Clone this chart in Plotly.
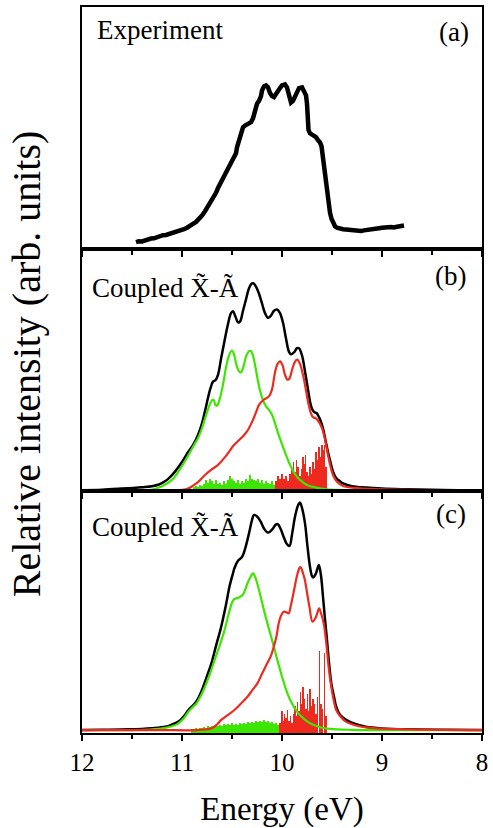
import plotly.graph_objects as go
from plotly.subplots import make_subplots

# ---------------- (a) experimental spectrum ----------------
exp_energy = [11.46, 11.43, 11.40, 11.37, 11.34, 11.31, 11.28, 11.25, 11.22, 11.19,
              11.16, 11.13, 11.10, 11.07, 11.04, 11.01, 10.98, 10.95, 10.92, 10.89,
              10.86, 10.83, 10.80, 10.77, 10.75, 10.72, 10.70, 10.68, 10.66, 10.64,
              10.62, 10.60, 10.58, 10.56, 10.54, 10.52, 10.50, 10.48, 10.46, 10.45,
              10.43, 10.41, 10.39, 10.37, 10.35, 10.33, 10.31, 10.29, 10.27, 10.25,
              10.23, 10.21, 10.20, 10.18, 10.16, 10.14, 10.12, 10.10, 10.08, 10.06,
              10.04, 10.02, 10.00, 9.97, 9.95, 9.93, 9.91, 9.89, 9.86, 9.83,
              9.80, 9.78, 9.76, 9.75, 9.745, 9.735, 9.72, 9.70, 9.68, 9.66,
              9.64, 9.62, 9.605, 9.595, 9.585, 9.575, 9.565, 9.555, 9.545, 9.535,
              9.52, 9.505, 9.49, 9.47, 9.45, 9.42, 9.39, 9.36, 9.33, 9.30,
              9.27, 9.24, 9.21, 9.18, 9.15, 9.12, 9.09, 9.06, 9.03, 9.00,
              8.97, 8.94, 8.91, 8.88, 8.85, 8.82, 8.80, 8.78]
exp_intensity = [0.028, 0.032, 0.031, 0.036, 0.038, 0.043, 0.044, 0.050, 0.052, 0.057,
                 0.058, 0.062, 0.064, 0.066, 0.070, 0.074, 0.082, 0.088, 0.094, 0.104,
                 0.112, 0.124, 0.138, 0.156, 0.170, 0.188, 0.200, 0.218, 0.232, 0.252,
                 0.268, 0.286, 0.306, 0.318, 0.330, 0.346, 0.362, 0.380, 0.396, 0.420,
                 0.452, 0.488, 0.503, 0.510, 0.516, 0.520, 0.524, 0.540, 0.570, 0.600,
                 0.612, 0.632, 0.655, 0.672, 0.676, 0.668, 0.645, 0.632, 0.628, 0.638,
                 0.650, 0.665, 0.676, 0.680, 0.668, 0.630, 0.605, 0.612, 0.640, 0.665,
                 0.668, 0.655, 0.635, 0.600, 0.540, 0.492, 0.478, 0.474, 0.470, 0.462,
                 0.450, 0.440, 0.425, 0.390, 0.350, 0.310, 0.270, 0.240, 0.205, 0.175,
                 0.150, 0.125, 0.105, 0.094, 0.088, 0.084, 0.082, 0.081, 0.079, 0.078,
                 0.076, 0.075, 0.074, 0.077, 0.078, 0.082, 0.082, 0.085, 0.086, 0.088,
                 0.087, 0.090, 0.091, 0.089, 0.092, 0.096, 0.094, 0.097]

# ---------------- (b) coupled X-A, first model ----------------
b_total_e = [12.00, 11.80, 11.60, 11.40, 11.30, 11.23, 11.17, 11.13, 11.07, 11.00,
             10.94, 10.89, 10.84, 10.80, 10.77, 10.74, 10.715, 10.69, 10.665, 10.64,
             10.61, 10.575, 10.54, 10.51, 10.49, 10.465, 10.44, 10.42, 10.39, 10.36,
             10.33, 10.30, 10.285, 10.26, 10.23, 10.20, 10.17, 10.14, 10.11, 10.08,
             10.05, 10.02, 9.99, 9.96, 9.93, 9.91, 9.88, 9.85, 9.83, 9.80,
             9.77, 9.74, 9.72, 9.70, 9.675, 9.655, 9.63, 9.61, 9.59, 9.565,
             9.54, 9.51, 9.49, 9.46, 9.42, 9.39, 9.30, 9.16, 9.00, 8.74,
             8.40, 8.00]
b_total_i = [0.003, 0.005, 0.010, 0.016, 0.020, 0.027, 0.040, 0.053, 0.080, 0.120,
             0.160, 0.190, 0.232, 0.280, 0.330, 0.385, 0.425, 0.452, 0.458, 0.480,
             0.545, 0.620, 0.690, 0.735, 0.743, 0.720, 0.697, 0.700, 0.745, 0.792,
             0.838, 0.858, 0.858, 0.845, 0.815, 0.775, 0.735, 0.716, 0.725, 0.745,
             0.750, 0.735, 0.695, 0.630, 0.575, 0.565, 0.573, 0.590, 0.590, 0.560,
             0.494, 0.420, 0.370, 0.340, 0.325, 0.322, 0.305, 0.285, 0.258, 0.210,
             0.160, 0.110, 0.080, 0.055, 0.040, 0.032, 0.020, 0.014, 0.010, 0.007,
             0.004, 0.003]

b_x_e = [12.00, 11.60, 11.40, 11.30, 11.20, 11.10, 11.02, 10.94, 10.88, 10.84,
         10.80, 10.76, 10.72, 10.70, 10.685, 10.665, 10.65, 10.62, 10.59, 10.56,
         10.53, 10.50, 10.48, 10.455, 10.43, 10.41, 10.385, 10.36, 10.33, 10.31,
         10.29, 10.265, 10.245, 10.22, 10.19, 10.16, 10.13, 10.10, 10.07, 10.04,
         10.01, 9.97, 9.92, 9.87, 9.82, 9.75, 9.66, 9.55, 9.40, 9.00, 8.00]
b_x_i = [0.002, 0.002, 0.003, 0.006, 0.020, 0.046, 0.090, 0.145, 0.190, 0.218,
         0.260, 0.312, 0.360, 0.375, 0.377, 0.355, 0.352, 0.385, 0.440, 0.510,
         0.560, 0.580, 0.565, 0.520, 0.495, 0.490, 0.515, 0.555, 0.578, 0.578,
         0.560, 0.510, 0.465, 0.415, 0.375, 0.350, 0.335, 0.315, 0.280, 0.240,
         0.205, 0.160, 0.108, 0.070, 0.046, 0.025, 0.014, 0.007, 0.004, 0.002, 0.002]

b_a_e = [12.00, 11.20, 11.00, 10.94, 10.86, 10.77, 10.70, 10.64, 10.56, 10.48,
         10.40, 10.35, 10.30, 10.26, 10.23, 10.18, 10.13, 10.10, 10.07, 10.045,
         10.02, 9.995, 9.97, 9.945, 9.925, 9.90, 9.87, 9.845, 9.82, 9.79,
         9.77, 9.74, 9.71, 9.69, 9.66, 9.63, 9.60, 9.57, 9.545, 9.52,
         9.49, 9.45, 9.39, 9.25, 9.06, 8.70, 8.00]
b_a_i = [0.003, 0.003, 0.005, 0.010, 0.030, 0.066, 0.090, 0.108, 0.145, 0.190,
         0.222, 0.246, 0.285, 0.325, 0.356, 0.378, 0.391, 0.420, 0.490, 0.525,
         0.536, 0.520, 0.480, 0.460, 0.465, 0.500, 0.535, 0.543, 0.525, 0.480,
         0.439, 0.370, 0.320, 0.305, 0.300, 0.285, 0.260, 0.215, 0.160, 0.110,
         0.066, 0.038, 0.021, 0.012, 0.008, 0.005, 0.003]

b_xsticks_e = [10.94, 10.92, 10.90, 10.88, 10.86, 10.84, 10.82, 10.80, 10.78, 10.76,
               10.74, 10.72, 10.70, 10.68, 10.66, 10.64, 10.62, 10.60, 10.58, 10.56,
               10.54, 10.52, 10.50, 10.48, 10.46, 10.44, 10.42, 10.40, 10.38, 10.36,
               10.34, 10.32, 10.30, 10.28, 10.26, 10.24, 10.22, 10.20, 10.18, 10.16,
               10.14, 10.12, 10.10, 10.08, 10.06, 10.04, 10.02, 10.00, 9.98, 9.96,
               9.94, 9.92, 9.90, 9.88, 9.86, 9.84, 9.82, 9.80, 9.78, 9.76,
               9.74, 9.72, 9.70]
b_xsticks_i = [0.008, 0.012, 0.010, 0.015, 0.020, 0.018, 0.025, 0.020, 0.030, 0.045,
               0.035, 0.050, 0.040, 0.030, 0.045, 0.030, 0.035, 0.025, 0.040, 0.030,
               0.045, 0.060, 0.050, 0.040, 0.035, 0.045, 0.030, 0.040, 0.035, 0.050,
               0.040, 0.065, 0.050, 0.045, 0.040, 0.050, 0.035, 0.045, 0.030, 0.040,
               0.035, 0.030, 0.040, 0.025, 0.030, 0.020, 0.025, 0.020, 0.015, 0.020,
               0.012, 0.015, 0.010, 0.012, 0.008, 0.010, 0.006, 0.008, 0.005, 0.006,
               0.004, 0.005, 0.003]

b_asticks_e = [10.06, 10.04, 10.02, 10.00, 9.98, 9.96, 9.94, 9.92, 9.90, 9.885,
               9.87, 9.855, 9.84, 9.82, 9.805, 9.79, 9.78, 9.765, 9.75, 9.735,
               9.72, 9.705, 9.69, 9.675, 9.66, 9.645, 9.63, 9.615, 9.60, 9.59,
               9.575, 9.56]
b_asticks_i = [0.04, 0.06, 0.05, 0.07, 0.05, 0.06, 0.04, 0.07, 0.09, 0.12,
               0.08, 0.13, 0.10, 0.06, 0.09, 0.14, 0.11, 0.15, 0.08, 0.06,
               0.10, 0.07, 0.12, 0.09, 0.16, 0.13, 0.18, 0.14, 0.19, 0.17,
               0.19, 0.10]

# ---------------- (c) coupled X-A, second model ----------------
c_total_e = [12.00, 11.80, 11.527, 11.30, 11.166, 11.10, 11.035, 10.98, 10.936, 10.87,
             10.83, 10.788, 10.75, 10.706, 10.66, 10.608, 10.56, 10.525, 10.49, 10.476,
             10.44, 10.40, 10.37, 10.33, 10.30, 10.28, 10.25, 10.213, 10.18, 10.14,
             10.10, 10.06, 10.04, 10.01, 9.984, 9.95, 9.925, 9.90, 9.87, 9.84,
             9.82, 9.80, 9.77, 9.745, 9.72, 9.70, 9.688, 9.66, 9.632, 9.61,
             9.59, 9.57, 9.55, 9.53, 9.507, 9.48, 9.458, 9.42, 9.36, 9.26,
             9.163, 9.00, 8.74, 8.40, 8.00]
c_total_i = [0.012, 0.013, 0.015, 0.020, 0.026, 0.035, 0.047, 0.070, 0.095, 0.123,
             0.150, 0.191, 0.235, 0.288, 0.360, 0.439, 0.530, 0.605, 0.660, 0.681,
             0.712, 0.727, 0.760, 0.825, 0.880, 0.901, 0.895, 0.873, 0.845, 0.828,
             0.840, 0.862, 0.862, 0.840, 0.811, 0.780, 0.773, 0.820, 0.894, 0.940,
             0.952, 0.930, 0.866, 0.770, 0.687, 0.648, 0.643, 0.660, 0.694, 0.650,
             0.563, 0.470, 0.384, 0.290, 0.205, 0.150, 0.109, 0.075, 0.054, 0.036,
             0.026, 0.019, 0.015, 0.013, 0.012]

c_x_e = [12.00, 11.50, 11.232, 11.10, 11.035, 10.98, 10.936, 10.89, 10.854, 10.81,
         10.77, 10.72, 10.673, 10.62, 10.574, 10.535, 10.502, 10.48, 10.46, 10.43,
         10.394, 10.37, 10.345, 10.31, 10.289, 10.26, 10.23, 10.20, 10.164, 10.12,
         10.082, 10.04, 10.00, 9.96, 9.918, 9.876, 9.836, 9.78, 9.72, 9.62,
         9.52, 9.30, 9.06, 8.00]
c_x_i = [0.012, 0.012, 0.017, 0.028, 0.040, 0.062, 0.088, 0.108, 0.123, 0.155,
         0.191, 0.245, 0.302, 0.365, 0.426, 0.490, 0.536, 0.552, 0.556, 0.560,
         0.570, 0.590, 0.619, 0.648, 0.660, 0.635, 0.591, 0.540, 0.481, 0.415,
         0.357, 0.292, 0.233, 0.180, 0.136, 0.105, 0.081, 0.058, 0.040, 0.024,
         0.017, 0.013, 0.012, 0.012]

c_a_e = [12.00, 11.20, 10.87, 10.706, 10.65, 10.608, 10.54, 10.476, 10.41, 10.345,
         10.30, 10.246, 10.20, 10.148, 10.11, 10.082, 10.055, 10.033, 10.01, 9.984,
         9.96, 9.935, 9.91, 9.879, 9.85, 9.825, 9.813, 9.79, 9.77, 9.754,
         9.725, 9.695, 9.665, 9.64, 9.629, 9.61, 9.583, 9.565, 9.55, 9.53,
         9.507, 9.48, 9.458, 9.41, 9.36, 9.26, 9.163, 9.00, 8.74, 8.00]
c_a_i = [0.012, 0.012, 0.012, 0.019, 0.035, 0.054, 0.075, 0.095, 0.122, 0.150,
         0.175, 0.205, 0.245, 0.288, 0.320, 0.357, 0.400, 0.453, 0.485, 0.501,
         0.500, 0.494, 0.530, 0.591, 0.650, 0.682, 0.685, 0.660, 0.630, 0.591,
         0.520, 0.460, 0.475, 0.505, 0.515, 0.495, 0.453, 0.400, 0.343, 0.260,
         0.191, 0.130, 0.095, 0.065, 0.047, 0.031, 0.023, 0.018, 0.015, 0.012]

c_xsticks_e = [10.90, 10.88, 10.86, 10.84, 10.82, 10.80, 10.78, 10.76, 10.74, 10.72,
               10.70, 10.68, 10.66, 10.64, 10.62, 10.60, 10.58, 10.56, 10.54, 10.52,
               10.50, 10.48, 10.46, 10.44, 10.42, 10.40, 10.38, 10.36, 10.34, 10.32,
               10.30, 10.28, 10.26, 10.24, 10.22, 10.20, 10.18, 10.16, 10.14, 10.12,
               10.10, 10.08, 10.06, 10.04, 10.02, 10.00, 9.98, 9.96, 9.94, 9.92,
               9.90, 9.88, 9.86, 9.84, 9.82, 9.80, 9.78, 9.76]
c_xsticks_i = [0.016, 0.018, 0.020, 0.018, 0.022, 0.020, 0.025, 0.022, 0.028, 0.025,
               0.030, 0.028, 0.032, 0.030, 0.035, 0.030, 0.036, 0.032, 0.038, 0.034,
               0.040, 0.035, 0.038, 0.034, 0.040, 0.036, 0.042, 0.038, 0.044, 0.040,
               0.046, 0.042, 0.048, 0.044, 0.050, 0.046, 0.052, 0.045, 0.048, 0.040,
               0.044, 0.038, 0.042, 0.034, 0.036, 0.030, 0.032, 0.026, 0.028, 0.022,
               0.024, 0.020, 0.020, 0.016, 0.016, 0.014, 0.013, 0.012]

c_asticks_e = [10.02, 10.00, 9.99, 9.975, 9.96, 9.945, 9.93, 9.915, 9.90, 9.885,
               9.87, 9.86, 9.845, 9.83, 9.815, 9.80, 9.79, 9.775, 9.76, 9.745,
               9.73, 9.72, 9.705, 9.69, 9.675, 9.66, 9.645, 9.625, 9.61, 9.595,
               9.575, 9.56]
c_asticks_i = [0.04, 0.09, 0.05, 0.08, 0.06, 0.095, 0.05, 0.07, 0.04, 0.08,
               0.11, 0.07, 0.13, 0.09, 0.17, 0.12, 0.19, 0.14, 0.10, 0.16,
               0.09, 0.18, 0.11, 0.14, 0.12, 0.08, 0.15, 0.34, 0.12, 0.10,
               0.33, 0.07]

x_ticks = [12, 11, 10, 9, 8]
x_tick_text = ["12", "11", "10", "9", "8"]

BLACK = "#000000"
GREEN = "#3de600"
RED = "#ee2a1e"
SERIF = "Liberation Serif"

fig = make_subplots(rows=3, cols=1, shared_xaxes=True, vertical_spacing=0)

# panel (a)
fig.add_trace(go.Scatter(x=exp_energy, y=exp_intensity, mode="lines",
                         line=dict(color=BLACK, width=4.5)), row=1, col=1)

# panels (b) and (c): envelopes, then stick spectra
panels = [
    (2, b_total_e, b_total_i, b_x_e, b_x_i, b_a_e, b_a_i,
     b_xsticks_e, b_xsticks_i, b_asticks_e, b_asticks_i),
    (3, c_total_e, c_total_i, c_x_e, c_x_i, c_a_e, c_a_i,
     c_xsticks_e, c_xsticks_i, c_asticks_e, c_asticks_i),
]
for row, te, ti, xe, xi, ae, ai, xse, xsi, ase, asi in panels:
    fig.add_trace(go.Scatter(x=te, y=ti, mode="lines", line_shape="spline",
                             line=dict(color=BLACK, width=2.5)), row=row, col=1)
    fig.add_trace(go.Scatter(x=xe, y=xi, mode="lines", line_shape="spline",
                             line=dict(color=GREEN, width=2.2)), row=row, col=1)
    fig.add_trace(go.Scatter(x=ae, y=ai, mode="lines", line_shape="spline",
                             line=dict(color=RED, width=2.2)), row=row, col=1)
    fig.add_trace(go.Bar(x=xse, y=xsi, width=0.012, marker=dict(color=GREEN, line_width=0)),
                  row=row, col=1)
    fig.add_trace(go.Bar(x=ase, y=asi, width=0.007, marker=dict(color=RED, line_width=0)),
                  row=row, col=1)

fig.update_layout(
    width=493, height=828,
    margin=dict(l=82, r=5, t=7, b=95),
    paper_bgcolor="white", plot_bgcolor="white",
    showlegend=False, barmode="overlay", bargap=0,
    font=dict(family=SERIF, color="black"),
)

for r in (1, 2, 3):
    fig.update_xaxes(
        row=r, col=1, range=[12, 8], showgrid=False, zeroline=False,
        showline=True, linecolor="black", linewidth=1.5, mirror=True,
        ticks="outside", ticklen=6, tickwidth=1.8, tickcolor="black",
        tickvals=x_ticks, ticktext=x_tick_text,
        minor=dict(ticks="outside", ticklen=4, tickwidth=1.8, tickcolor="black", dtick=0.5),
        showticklabels=(r == 3), tickfont=dict(size=25, family=SERIF),
    )
    fig.update_yaxes(
        row=r, col=1, range=[0, 1], showgrid=False, zeroline=False,
        showline=True, linecolor="black", linewidth=1.5, mirror=True,
        ticks="", showticklabels=False,
    )

fig.update_xaxes(row=3, col=1, title=dict(text="Energy (eV)", font=dict(size=33, family=SERIF),
                                          standoff=22))

ann_font = dict(size=27, family=SERIF, color="black")
labels = [
    ("x domain", "y domain", 0.032, 0.905, "Experiment", "left"),
    ("x domain", "y domain", 0.972, 0.897, "(a)", "right"),
    ("x domain", "y2 domain", 0.02, 0.84, "Coupled X\u0303-\u00c3", "left"),
    ("x domain", "y2 domain", 0.966, 0.889, "(b)", "right"),
    ("x domain", "y3 domain", 0.02, 0.85, "Coupled X\u0303-\u00c3", "left"),
    ("x domain", "y3 domain", 0.966, 0.903, "(c)", "right"),
]
for xr, yr, xx, yy, txt, anchor in labels:
    fig.add_annotation(xref=xr, yref=yr, x=xx, y=yy, text=txt, showarrow=False,
                       xanchor=anchor, yanchor="middle", font=ann_font)

fig.add_annotation(xref="paper", yref="paper", x=-0.14, y=0.508,
                   text="Relative intensity (arb. units)", textangle=-90,
                   showarrow=False, xanchor="center", yanchor="middle",
                   font=dict(size=40, family=SERIF, color="black"))

fig.write_html("out.html")
